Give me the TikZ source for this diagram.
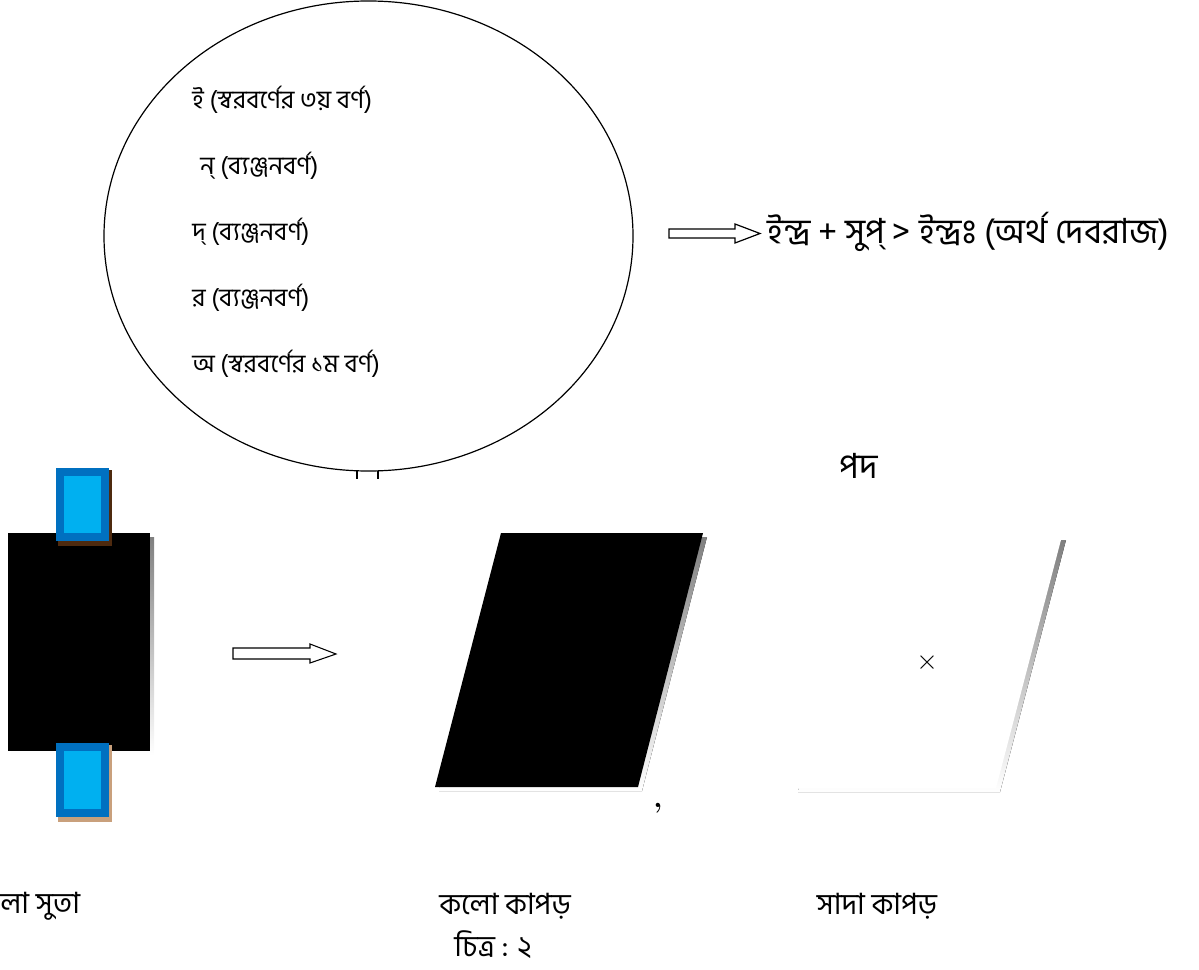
\documentclass[tikz,border=0pt]{standalone}
\usepackage{fontspec}
\usetikzlibrary{shapes.geometric}
\newfontfamily\bn[Script=Bengali]{Hind Siliguri}
\definecolor{tabdark}{HTML}{0070C0}
\definecolor{tablight}{HTML}{00B0F0}
\definecolor{brownA}{HTML}{4E2A0F}
\definecolor{brownB}{HTML}{C9A07C}
\definecolor{shade}{HTML}{C8C8C8}
\tikzset{
  px/.style={x=0.75pt,y=-0.75pt},
  intext/.style={font=\bn\fontsize{19}{21}\selectfont, anchor=west, inner sep=0pt},
  bigtext/.style={font=\bn\fontsize{26}{29}\selectfont, anchor=west, inner sep=0pt},
  lbl/.style={font=\bn\fontsize{22}{24}\selectfont, inner sep=0pt},
  blockarrow/.style={draw=black, fill=white, line width=0.9pt, line join=miter},
}
\begin{document}
\begin{tikzpicture}[px]
\useasboundingbox (0,0) rectangle (1199,970);
% ellipse
\node[draw, line width=0.9pt, ellipse, minimum width=529*0.75pt, minimum height=470*0.75pt, inner sep=0pt] (ell) at (368.5,236) {};
\draw[line width=0.8pt] (357,471) -- (357,479) (378,471) -- (378,479);
\node[intext] (t1) at (192,100) {ই (স্বরবর্ণের ৩য় বর্ণ)};
\node[intext] (t2) at (200,166) {ন্ (ব্যঞ্জনবর্ণ)};
\node[intext] (t3) at (192,232) {দ্ (ব্যঞ্জনবর্ণ)};
\node[intext] (t4) at (192,298) {র (ব্যঞ্জনবর্ণ)};
\node[intext] (t5) at (192,364) {অ (স্বরবর্ণের ১ম বর্ণ)};
% top-right arrow and text
\draw[blockarrow] (669,229) -- (735,229) -- (735,224) -- (760,233.5) -- (735,243) -- (735,238) -- (669,238) -- cycle;
\node[bigtext] (res) at (767,232) {ইন্দ্র + সুপ্ > ইন্দ্রঃ (অর্থ দেবরাজ)};
\node[lbl, font=\bn\fontsize{26}{28}\selectfont] (pad) at (859,466) {পদ};
% left black thread block
\fill[shade] (11,537) rectangle (154,755);
\fill[black] (8,533) rectangle (150,751);
\fill[brownA] (58,470) rectangle (112,546);
\fill[tabdark] (56,468) rectangle (109,541);
\fill[tablight] (64,476) rectangle (101,533);
\fill[brownB] (58,745) rectangle (112,822);
\fill[tabdark] (56,743) rectangle (109,817);
\fill[tablight] (64,751) rectangle (101,809);
% small arrow
\draw[blockarrow, line width=0.8pt] (233,648) -- (310,648) -- (310,644) -- (336,654) -- (310,663) -- (310,659) -- (233,659) -- cycle;
% black cloth
\fill[shade] (505,537) -- (707,537) -- (642,791) -- (439,791) -- cycle;
\fill[black] (501,533) -- (703,533) -- (638,787) -- (435,787) -- cycle;
\node[font=\bfseries\fontsize{22}{24}\selectfont, inner sep=0pt] (comma) at (658,808) {,};
% white cloth
\fill[shade] (866,540) -- (1066,540) -- (1000,792) -- (798,792) -- cycle;
\fill[white] (862,536) -- (1062,536) -- (996,788) -- (796,788) -- cycle;
\node[font=\fontsize{22}{24}\selectfont, inner sep=0pt] (cross) at (927,663) {$\times$};
% labels
\node[lbl, anchor=west] (l1) at (0,906) {লা সুতা};
\node[lbl] (l2) at (505,906) {কলো কাপড়};
\node[lbl] (l3) at (493,945) {চিত্র : ২};
\node[lbl] (l4) at (877,906) {সাদা কাপড়};
\end{tikzpicture}
\end{document}
